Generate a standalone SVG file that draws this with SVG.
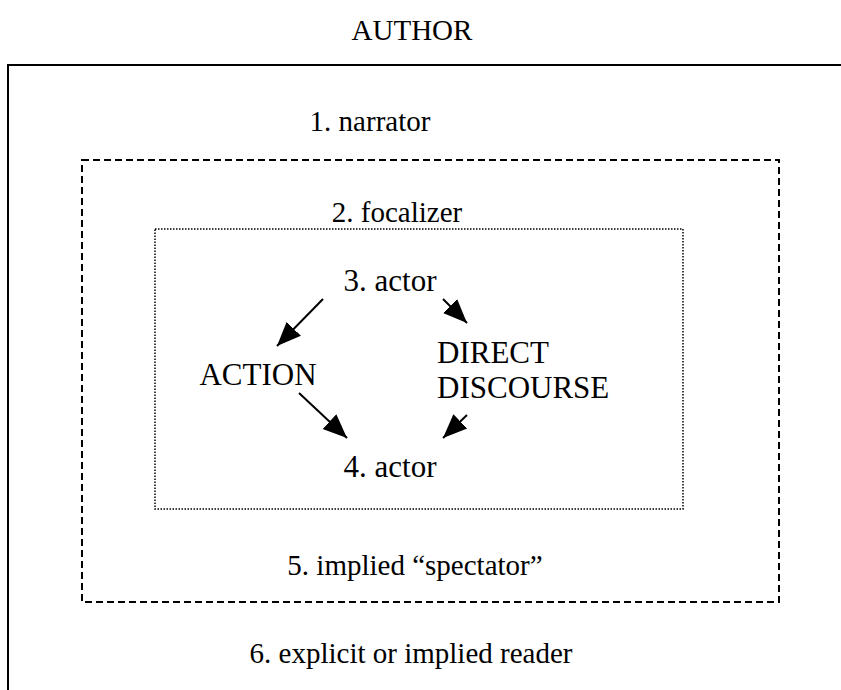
<svg xmlns="http://www.w3.org/2000/svg" width="841" height="690" viewBox="0 0 841 690">
<style>
text{font-family:"Liberation Serif","Times New Roman",serif;font-size:29px;fill:#000}
.c{text-anchor:middle}
.in{font-size:31px}
.frame{fill:none;stroke:#000}
.conn line{stroke:#000;stroke-width:2;marker-end:url(#ah)}
</style>
<defs>
<marker id="ah" markerUnits="userSpaceOnUse" markerWidth="26" markerHeight="22" viewBox="0 0 26 22" refX="24" refY="11" orient="auto">
<path d="M0,1 L24,11 L0,21 Z" fill="#000"/>
</marker>
</defs>
<rect width="841" height="690" fill="#fff"/>
<g id="author"><text class="c" x="412" y="40">AUTHOR</text></g>
<g id="frame-narrator">
<path class="frame" stroke-width="2" d="M8,690 V65 H841"/>
<text class="c" x="370" y="131">1. narrator</text>
</g>
<g id="frame-focalizer">
<rect class="frame" x="82" y="160" width="697" height="442" stroke-width="2" stroke-dasharray="7,4"/>
<text class="c" x="397" y="222">2. focalizer</text>
<text class="c" x="415" y="575">5. implied “spectator”</text>
</g>
<g id="frame-actors">
<rect class="frame" x="155" y="229" width="528" height="280" stroke-width="1.5" stroke-dasharray="1.5,1.5"/>
</g>
<g id="actor3"><text class="c in" x="390" y="291">3. actor</text></g>
<g id="action"><text class="c in" x="258" y="385">ACTION</text></g>
<g id="discourse"><text class="in" x="437" y="363">DIRECT</text><text class="in" x="437" y="398">DISCOURSE</text></g>
<g id="actor4"><text class="c in" x="390" y="477">4. actor</text></g>
<g id="reader"><text class="c" x="411" y="663">6. explicit or implied reader</text></g>
<g id="connectors" class="conn">
<line x1="323" y1="299" x2="277" y2="346"/>
<line x1="443" y1="299" x2="467" y2="323"/>
<line x1="299" y1="393" x2="347" y2="438"/>
<line x1="467" y1="415" x2="443" y2="438"/>
</g>
</svg>
